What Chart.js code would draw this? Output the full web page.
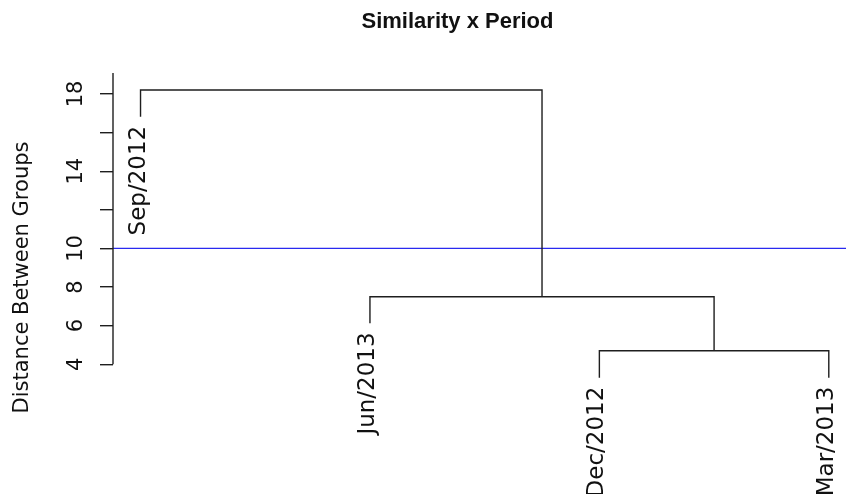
<!DOCTYPE html>
<html>
<head>
<meta charset="utf-8">
<script src="https://cdn.jsdelivr.net/npm/chart.js@4.4.0/dist/chart.umd.min.js"></script>
<style>
  html, body { margin: 0; padding: 0; background: #fff; }
  #wrap { width: 846px; height: 494px; }
</style>
</head>
<body>
<div id="wrap"><canvas id="dendro" width="846" height="494"></canvas></div>
<script>
// Leaves, left to right, and how far each leaf line hangs down
const leafLabels = ['Sep/2012', 'Jun/2013', 'Dec/2012', 'Mar/2013'];
const leafHeights = [16.82, 6.12, 3.31, 3.31];

// Merge steps like R's hclust: negative = leaf number, positive = earlier merge
const mergePairs = [[-3, -4], [-2, 1], [-1, 2]];
const mergeHeights = [4.70, 7.50, 18.21];

// Cut line and y axis ticks
const cutHeight = 10;
const yTicks = [4, 6, 8, 10, 12, 14, 16, 18];
const yTickLabels = ['4', '6', '8', '10', '', '14', '', '18'];

const lineColor = '#1e1e1e';
const axisFont = '21px "DejaVu Sans"';
const leafFont = '23px "DejaVu Sans"';

// Build one elbow path per merge
function buildMergeDatasets() {
    const mergeX = [];
    const datasets = [];
    const node = id => id < 0
        ? { x: -id, y: leafHeights[-id - 1] }
        : { x: mergeX[id - 1], y: mergeHeights[id - 1] };

    mergePairs.forEach((pair, i) => {
        const a = node(pair[0]);
        const b = node(pair[1]);
        const h = mergeHeights[i];
        mergeX.push((a.x + b.x) / 2);
        datasets.push({
            data: [{ x: a.x, y: a.y }, { x: a.x, y: h }, { x: b.x, y: h }, { x: b.x, y: b.y }],
            borderColor: lineColor,
            borderWidth: 1.4,
            pointRadius: 0,
            tension: 0,
            fill: false,
            clip: false
        });
    });
    return datasets;
}

const cutLine = {
    data: [{ x: 0.880, y: cutHeight }, { x: 4.075, y: cutHeight }],
    borderColor: '#2a2af0',
    borderWidth: 1.3,
    pointRadius: 0,
    fill: false
};

// Axis line, rotated tick labels, leaf labels and titles
const textPlugin = {
    id: 'dendroText',
    afterDraw(chart) {
        const ctx = chart.ctx;
        const xs = chart.scales.x;
        const ys = chart.scales.y;
        const area = chart.chartArea;

        ctx.save();
        ctx.strokeStyle = lineColor;
        ctx.lineWidth = 1.4;
        ctx.beginPath();
        ctx.moveTo(area.left, ys.getPixelForValue(yTicks[0]));
        ctx.lineTo(area.left, area.top);
        ctx.stroke();

        ctx.fillStyle = '#111';
        ctx.font = axisFont;
        yTicks.forEach((v, i) => {
            if (!yTickLabels[i]) return;
            ctx.save();
            ctx.translate(82, ys.getPixelForValue(v));
            ctx.rotate(-Math.PI / 2);
            ctx.textAlign = 'center';
            ctx.textBaseline = 'alphabetic';
            ctx.fillText(yTickLabels[i], 0, 0);
            ctx.restore();
        });

        ctx.save();
        ctx.translate(28, 277.5);
        ctx.rotate(-Math.PI / 2);
        ctx.textAlign = 'center';
        ctx.fillText('Distance Between Groups', 0, 0);
        ctx.restore();

        ctx.font = leafFont;
        leafLabels.forEach((label, i) => {
            ctx.save();
            ctx.translate(xs.getPixelForValue(i + 1) + 4, ys.getPixelForValue(leafHeights[i]) + 9);
            ctx.rotate(-Math.PI / 2);
            ctx.textAlign = 'right';
            ctx.textBaseline = 'alphabetic';
            ctx.fillText(label, 0, 0);
            ctx.restore();
        });

        ctx.font = 'bold 22px "Liberation Sans"';
        ctx.textAlign = 'center';
        ctx.fillText('Similarity x Period', 457.5, 28);
        ctx.restore();
    }
};

new Chart(document.getElementById('dendro').getContext('2d'), {
    type: 'line',
    data: { datasets: [...buildMergeDatasets(), cutLine] },
    options: {
        responsive: false,
        animation: false,
        devicePixelRatio: 1,
        layout: { padding: { left: 100, top: 73, right: 0, bottom: 0 } },
        plugins: { legend: { display: false }, tooltip: { enabled: false }, title: { display: false } },
        scales: {
            x: { type: 'linear', min: 0.880, max: 4.075, display: false },
            y: {
                type: 'linear',
                min: -2.717,
                max: 19.087,
                afterBuildTicks: scale => { scale.ticks = yTicks.map(v => ({ value: v })); },
                afterFit: scale => { scale.width = 13; },
                ticks: { display: false },
                grid: { drawOnChartArea: false, drawTicks: true, tickLength: 13, color: lineColor, lineWidth: 1.4 },
                border: { display: false }
            }
        }
    },
    plugins: [textPlugin]
});
</script>
</body>
</html>
